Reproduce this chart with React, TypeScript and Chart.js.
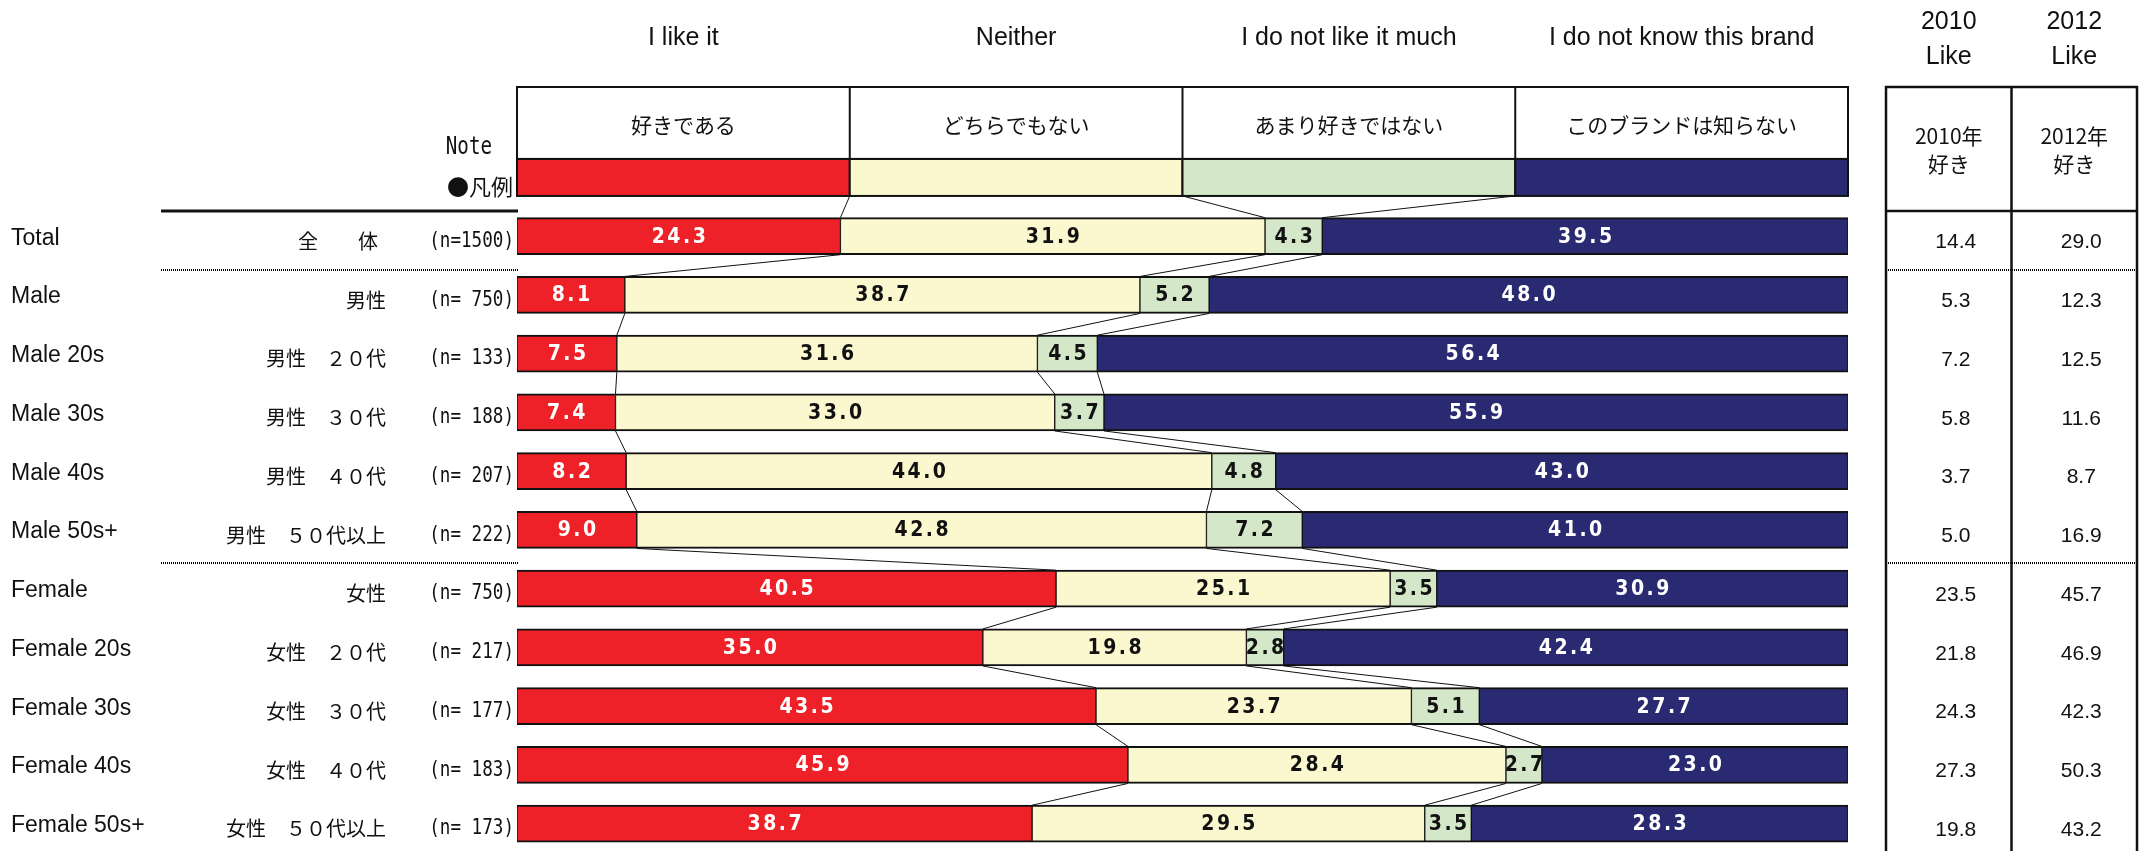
import React, { useEffect, useRef } from "react";
import { Chart, registerables } from "chart.js";

Chart.register(...registerables);

// ---------------- data ----------------
const GROUPS_EN = ["Total", "Male", "Male 20s", "Male 30s", "Male 40s", "Male 50s+", "Female", "Female 20s", "Female 30s", "Female 40s", "Female 50s+"];
const GROUPS_JA = ["全　　体", "男性", "男性　２０代", "男性　３０代", "男性　４０代", "男性　５０代以上", "女性", "女性　２０代", "女性　３０代", "女性　４０代", "女性　５０代以上"];
const SAMPLE_N = [1500, 750, 133, 188, 207, 222, 750, 217, 177, 183, 173];

const LIKE = [24.3, 8.1, 7.5, 7.4, 8.2, 9.0, 40.5, 35.0, 43.5, 45.9, 38.7];
const NEITHER = [31.9, 38.7, 31.6, 33.0, 44.0, 42.8, 25.1, 19.8, 23.7, 28.4, 29.5];
const DISLIKE = [4.3, 5.2, 4.5, 3.7, 4.8, 7.2, 3.5, 2.8, 5.1, 2.7, 3.5];
const UNKNOWN = [39.5, 48.0, 56.4, 55.9, 43.0, 41.0, 30.9, 42.4, 27.7, 23.0, 28.3];

const LIKE_2010 = [14.4, 5.3, 7.2, 5.8, 3.7, 5.0, 23.5, 21.8, 24.3, 27.3, 19.8];
const LIKE_2012 = [29.0, 12.3, 12.5, 11.6, 8.7, 16.9, 45.7, 46.9, 42.3, 50.3, 43.2];

const SERIES_EN = ["I like it", "Neither", "I do not like it much", "I do not know this brand"];
const SERIES_JA = ["好きである", "どちらでもない", "あまり好きではない", "このブランドは知らない"];
const TABLE_EN = [["2010", "Like"], ["2012", "Like"]];
const TABLE_JA = [["2010年", "好き"], ["2012年", "好き"]];
const SEPARATOR_AFTER = [0, 5];

// ---------------- styles / layout ----------------
const COLORS = ["#ED2127", "#FBF7CF", "#D4E7C8", "#2A2A72"];
const TEXT_COLORS = ["#ffffff", "#111111", "#111111", "#ffffff"];
const W = 2140;
const H = 851;
const PLOT_LEFT = 517;
const PLOT_RIGHT = 1848;
const ROW0_CENTER = 236.2;
const PITCH = 58.75;
const BAR_T = 37;
const Y_MIN = -ROW0_CENTER / PITCH;
const Y_MAX = Y_MIN + H / PITCH;
const HEADER_TOP = 87;
const TABLE_X = [1886, 2011.5, 2137];

const LATIN = "'Liberation Sans', Arial, sans-serif";
const JP = "'Noto Sans CJK JP', sans-serif";
const MONO = "'DejaVu Sans Mono', monospace";
const VALUE_FONT = "bold 21px 'DejaVu Sans Condensed', 'DejaVu Sans', sans-serif";

const SERIES = [LIKE, NEITHER, DISLIKE, UNKNOWN];

function hline(ctx: CanvasRenderingContext2D, x1: number, x2: number, y: number, w: number, dash?: number[]) {
  ctx.save();
  ctx.beginPath();
  ctx.lineWidth = w;
  ctx.strokeStyle = dash ? "#000" : "#111";
  if (dash) ctx.setLineDash(dash);
  ctx.moveTo(x1, y);
  ctx.lineTo(x2, y);
  ctx.stroke();
  ctx.restore();
}
function vline(ctx: CanvasRenderingContext2D, x: number, y1: number, y2: number, w: number) {
  ctx.save();
  ctx.beginPath();
  ctx.lineWidth = w;
  ctx.strokeStyle = "#111";
  ctx.moveTo(x, y1);
  ctx.lineTo(x, y2);
  ctx.stroke();
  ctx.restore();
}
// condensed text (horizontal squeeze), aligned at x
function narrowText(ctx: CanvasRenderingContext2D, text: string, x: number, y: number, sx: number) {
  ctx.save();
  ctx.translate(x, y);
  ctx.scale(sx, 1);
  ctx.fillText(text, 0, 0);
  ctx.restore();
}

const overlay = {
  id: "overlay",
  afterDatasetsDraw(chart: any) {
    const ctx: CanvasRenderingContext2D = chart.ctx;
    const xs = chart.scales.x;
    const ys = chart.scales.y;
    const half = BAR_T / 2;

    // legend colour row (row index -1), quarters of the value axis
    const legendY = ys.getPixelForValue(-1);
    for (let k = 0; k < 4; k++) {
      const x1 = xs.getPixelForValue(k * 25);
      const x2 = xs.getPixelForValue((k + 1) * 25);
      ctx.save();
      ctx.fillStyle = COLORS[k];
      ctx.fillRect(x1, legendY - half, x2 - x1, BAR_T);
      ctx.lineWidth = 2;
      ctx.strokeStyle = "#111";
      ctx.strokeRect(x1, legendY - half, x2 - x1, BAR_T);
      ctx.restore();
    }

    // connecting lines between consecutive rows
    const bounds = (i: number) => {
      if (i < 0) return [25, 50, 75];
      const b1 = LIKE[i];
      const b2 = b1 + NEITHER[i];
      const b3 = b2 + DISLIKE[i];
      return [b1, b2, b3];
    };
    ctx.save();
    ctx.strokeStyle = "#111";
    ctx.lineWidth = 1;
    for (let r = -1; r < GROUPS_EN.length - 1; r++) {
      const a = bounds(r);
      const b = bounds(r + 1);
      const yA = ys.getPixelForValue(r) + half;
      const yB = ys.getPixelForValue(r + 1) - half;
      for (let k = 0; k < 3; k++) {
        ctx.beginPath();
        ctx.moveTo(xs.getPixelForValue(a[k]), yA);
        ctx.lineTo(xs.getPixelForValue(b[k]), yB);
        ctx.stroke();
      }
    }
    ctx.restore();

    // value labels
    ctx.save();
    ctx.font = VALUE_FONT;
    (ctx as any).letterSpacing = "2.5px";
    ctx.textAlign = "center";
    ctx.textBaseline = "middle";
    for (let d = 0; d < 4; d++) {
      const meta = chart.getDatasetMeta(d);
      meta.data.forEach((el: any, i: number) => {
        const cx = (el.x + el.base) / 2;
        ctx.fillStyle = TEXT_COLORS[d];
        ctx.fillText(SERIES[d][i].toFixed(1), cx + 1.25, el.y + 1);
      });
    }
    ctx.restore();
  },
  afterDraw(chart: any) {
    const ctx: CanvasRenderingContext2D = chart.ctx;
    const xs = chart.scales.x;
    const ys = chart.scales.y;
    const half = BAR_T / 2;
    const legendY = ys.getPixelForValue(-1);

    // header box (Japanese series names)
    ctx.save();
    ctx.lineWidth = 2;
    ctx.strokeStyle = "#111";
    ctx.strokeRect(PLOT_LEFT, HEADER_TOP, PLOT_RIGHT - PLOT_LEFT, legendY - half - HEADER_TOP);
    ctx.restore();
    for (let k = 1; k < 4; k++) vline(ctx, xs.getPixelForValue(k * 25), HEADER_TOP, legendY - half, 2);

    ctx.save();
    ctx.textAlign = "center";
    ctx.textBaseline = "middle";
    ctx.fillStyle = "#111";
    for (let k = 0; k < 4; k++) {
      const cx = xs.getPixelForValue(k * 25 + 12.5);
      ctx.font = `25px ${LATIN}`;
      ctx.fillText(SERIES_EN[k], cx, 38);
      ctx.font = `21px ${JP}`;
      ctx.fillText(SERIES_JA[k], cx, 125);
    }
    ctx.restore();

    // Note / legend marker
    ctx.save();
    ctx.textAlign = "right";
    ctx.textBaseline = "middle";
    ctx.fillStyle = "#111";
    ctx.font = `24px ${MONO}`;
    narrowText(ctx, "Note", 492, 148, 0.8);
    ctx.font = `22px ${JP}`;
    ctx.fillText("●凡例", 513, legendY + 9);
    ctx.restore();

    // rules on the label area
    hline(ctx, 161, PLOT_LEFT + 1, Math.round(legendY + half + 15), 3);
    SEPARATOR_AFTER.forEach((i) => {
      const y = Math.round(ys.getPixelForValue(i) + PITCH / 2 + 4);
      hline(ctx, 161, PLOT_LEFT + 1, y, 2, [1, 1]);
      hline(ctx, TABLE_X[0], TABLE_X[2], y, 2, [1, 1]);
    });

    // row labels
    ctx.save();
    ctx.fillStyle = "#111";
    ctx.textBaseline = "middle";
    GROUPS_EN.forEach((lab, i) => {
      const y = ys.getPixelForValue(i);
      ctx.textAlign = "left";
      ctx.font = `23px ${LATIN}`;
      ctx.fillText(lab, 11, y + 2);
      ctx.textAlign = "right";
      ctx.font = `20px ${JP}`;
      ctx.fillText(GROUPS_JA[i], i === 0 ? 378 : 386, y + 5);
      ctx.font = `22px ${MONO}`;
      const n = String(SAMPLE_N[i]).padStart(4, " ");
      narrowText(ctx, `(n=${n})`, 514, y + 5, 0.8);
    });
    ctx.restore();

    // right-hand table
    const tTop = HEADER_TOP;
    const tHeadBottom = legendY + half + 15;
    TABLE_X.forEach((x) => vline(ctx, x, tTop - 1, H, 2.5));
    hline(ctx, TABLE_X[0] - 1, TABLE_X[2] + 1, tTop, 2.5);
    hline(ctx, TABLE_X[0] - 1, TABLE_X[2] + 1, tHeadBottom, 2.5);

    ctx.save();
    ctx.fillStyle = "#111";
    ctx.textAlign = "center";
    ctx.textBaseline = "middle";
    for (let c = 0; c < 2; c++) {
      const cx = (TABLE_X[c] + TABLE_X[c + 1]) / 2;
      ctx.font = `25px ${LATIN}`;
      ctx.fillText(TABLE_EN[c][0], cx, 22);
      ctx.fillText(TABLE_EN[c][1], cx, 57);
      ctx.font = `21px ${JP}`;
      ctx.fillText(TABLE_JA[c][0], cx, 136);
      ctx.fillText(TABLE_JA[c][1], cx, 164);
      const vals = c === 0 ? LIKE_2010 : LIKE_2012;
      ctx.font = `21px ${LATIN}`;
      vals.forEach((v, i) => {
        ctx.fillText(v.toFixed(1), cx + 7, ys.getPixelForValue(i) + 6.5);
      });
    }
    ctx.restore();
  },
};

export default function App() {
  const ref = useRef<HTMLCanvasElement>(null);
  useEffect(() => {
    document.body.style.margin = "0";
    const mk = (vals: number[], k: number) => ({
      label: SERIES_EN[k],
      data: vals.map((v, i) => ({ x: v, y: i })),
      backgroundColor: COLORS[k],
      borderColor: "#111111",
      borderWidth: { top: 2, bottom: 2, left: 1, right: 1 },
      borderSkipped: false as const,
      barThickness: BAR_T,
    });
    const chart = new Chart(ref.current as HTMLCanvasElement, {
      type: "bar",
      data: {
        datasets: SERIES.map((s, k) => mk(s, k)) as any,
      },
      options: {
        indexAxis: "y",
        animation: false,
        responsive: false,
        devicePixelRatio: 1,
        layout: { padding: { left: PLOT_LEFT, right: W - PLOT_RIGHT, top: 0, bottom: 0 } },
        scales: {
          x: { type: "linear", stacked: true, min: 0, max: 100, offset: false, display: false },
          y: { type: "linear", stacked: true, min: Y_MIN, max: Y_MAX, reverse: true, offset: false, grace: 0, display: false },
        },
        plugins: { legend: { display: false }, tooltip: { enabled: false } },
      } as any,
      plugins: [overlay],
    });
    return () => chart.destroy();
  }, []);
  return <canvas ref={ref} width={W} height={H} style={{ display: "block", width: W, height: H }} />;
}
